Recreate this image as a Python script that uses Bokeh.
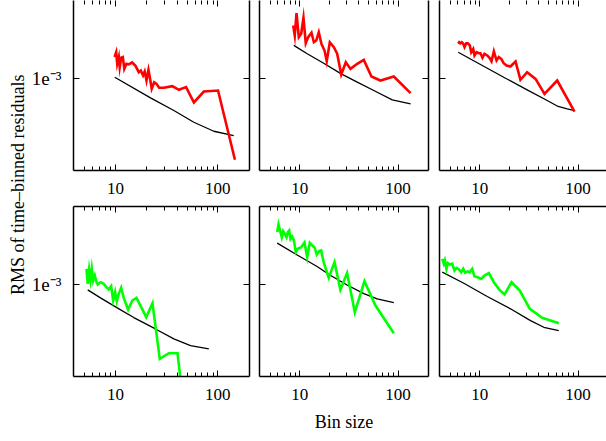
import math
from bokeh.plotting import figure
from bokeh.models import Range1d, LogAxis, FixedTicker, Label
from bokeh.layouts import row, column
from bokeh.embed import file_html
from bokeh.resources import INLINE

# ---------------- data ----------------
# top row (red), bottom row (green); black = model curve
tl_bin = [9.8, 10.16, 10.4, 10.78, 11.0, 11.37, 11.8, 12.2, 12.8, 13.5, 14.55, 15.7, 16.9, 17.7,
          18.6, 19.3, 20.1, 21.0, 21.6, 22.6, 23.9, 25.2, 26.7, 29.7, 35.9, 41.7, 49.0, 58.4,
          73.0, 100.5, 147]
tl_rms = [1.56e-3, 1.72e-3, 1.355e-3, 1.555e-3, 1.265e-3, 1.535e-3, 1.555e-3, 1.223e-3, 1.355e-3,
          1.337e-3, 1.392e-3, 1.30e-3, 1.14e-3, 1.18e-3, 1.064e-3, 1.156e-3, 0.96e-3, 1.197e-3,
          1.042e-3, 0.809e-3, 0.927e-3, 0.896e-3, 0.826e-3, 0.826e-3, 0.854e-3, 0.792e-3,
          0.837e-3, 0.61e-3, 0.765e-3, 0.781e-3, 0.187e-3]
tl_model_bin = [9.84, 22.0, 37.2, 58.3, 91.4, 143]
tl_model_rms = [1.027e-3, 0.671e-3, 0.517e-3, 0.406e-3, 0.337e-3, 0.308e-3]

tm_bin = [8.57, 8.89, 9.26, 9.77, 10.33, 10.9, 11.5, 12.17, 13.15, 13.9, 14.7, 15.6, 16.6, 17.85,
          18.8, 20.2, 22.2, 24.0, 26.4, 29.4, 32.8, 38.4, 44.8, 53.6, 66.1, 90.5, 134]
tm_rms = [2.99e-3, 2.43e-3, 3.85e-3, 2.35e-3, 2.52e-3, 3.50e-3, 2.07e-3, 2.35e-3, 2.57e-3,
          2.115e-3, 2.19e-3, 2.6e-3, 2.05e-3, 1.78e-3, 1.43e-3, 2.115e-3, 1.91e-3, 1.667e-3,
          1.086e-3, 1.40e-3, 1.22e-3, 1.355e-3, 1.47e-3, 1.042e-3, 0.96e-3, 1.042e-3, 0.739e-3]
tm_model_bin = [8.69, 11.9, 17.5, 26.4, 38.4, 56.6, 87.3, 134]
tm_model_rms = [1.98e-3, 1.667e-3, 1.372e-3, 1.10e-3, 0.927e-3, 0.781e-3, 0.644e-3, 0.593e-3]

tr_bin = [6.03, 6.17, 6.36, 6.56, 6.78, 6.99, 7.27, 7.55, 7.91, 8.18, 8.57, 8.83, 9.26, 9.77,
          10.16, 10.65, 11.16, 11.9, 12.55, 13.15, 13.9, 14.8, 15.6, 16.5, 17.5, 18.7, 20.5,
          23.1, 25.9, 30.3, 36.9, 45.5, 61.3, 91.9]
tr_rms = [2.05e-3, 2.115e-3, 2.07e-3, 2.115e-3, 2.05e-3, 1.91e-3, 2.07e-3, 2.07e-3, 1.98e-3,
          1.72e-3, 1.84e-3, 1.61e-3, 1.72e-3, 1.684e-3, 1.684e-3, 1.535e-3, 1.667e-3, 1.61e-3,
          1.535e-3, 1.43e-3, 1.755e-3, 1.45e-3, 1.555e-3, 1.50e-3, 1.372e-3, 1.31e-3, 1.283e-3,
          1.42e-3, 0.974e-3, 1.14e-3, 0.993e-3, 0.729e-3, 0.96e-3, 0.506e-3]
tr_model_bin = [6.03, 10.16, 17.5, 30.3, 48.5, 61.3, 77.5, 91.9]
tr_model_rms = [1.72e-3, 1.337e-3, 1.027e-3, 0.792e-3, 0.635e-3, 0.567e-3, 0.535e-3, 0.517e-3]

bl_bin = [5.21, 5.36, 5.53, 5.70, 5.87, 6.05, 6.28, 6.48, 6.71, 7.14, 7.69, 8.17, 8.60, 9.08,
          9.50, 9.93, 10.3, 10.77, 11.37, 12.05, 12.6, 13.3, 14.6, 16.05, 18.2, 19.96, 23.0,
          27.1, 33.2, 40.4, 45.7]
bl_rms = [1.383e-3, 1.0145e-3, 1.355e-3, 1.10e-3, 1.383e-3, 1.086e-3, 1.205e-3, 1.07e-3, 1.0e-3,
          1.049e-3, 1.0145e-3, 0.946e-3, 0.902e-3, 0.966e-3, 0.719e-3, 0.854e-3, 0.708e-3,
          0.826e-3, 0.935e-3, 0.76e-3, 0.68e-3, 0.597e-3, 0.719e-3, 0.76e-3, 0.606e-3, 0.51e-3,
          0.68e-3, 0.2155e-3, 0.2425e-3, 0.2425e-3, 0.09e-3]
bl_model_bin = [5.36, 7.14, 10.4, 15.1, 24.6, 37.2, 54.1, 81.7]
bl_model_rms = [0.896e-3, 0.76e-3, 0.618e-3, 0.506e-3, 0.40e-3, 0.326e-3, 0.284e-3, 0.265e-3]

bm_bin = [5.89, 6.07, 6.36, 6.56, 6.78, 7.04, 7.32, 7.55, 7.80, 8.04, 8.37, 8.69, 9.11, 9.54,
          10.33, 11.16, 11.9, 12.64, 13.37, 14.1, 14.9, 15.75, 16.5, 17.5, 19.7, 22.56, 25.9,
          30.3, 36.3, 45.5, 58.9, 90.5]
bm_rms = [2.95e-3, 3.45e-3, 2.95e-3, 2.65e-3, 3.01e-3, 2.85e-3, 2.65e-3, 2.95e-3, 3.05e-3,
          2.565e-3, 2.69e-3, 2.515e-3, 1.95e-3, 2.09e-3, 2.16e-3, 2.38e-3, 1.755e-3, 2.365e-3,
          2.235e-3, 2.16e-3, 1.854e-3, 1.99e-3, 2.02e-3, 1.587e-3, 1.149e-3, 1.587e-3, 0.896e-3,
          1.265e-3, 0.565e-3, 1.07e-3, 0.648e-3, 0.366e-3]
bm_model_bin = [5.89, 9.41, 15.0, 20.2, 30.3, 44.8, 61.3, 90.5]
bm_model_rms = [2.35e-3, 1.84e-3, 1.45e-3, 1.217e-3, 0.99e-3, 0.83e-3, 0.745e-3, 0.69e-3]

br_bin = [4.15, 4.30, 4.41, 4.58, 4.73, 4.95, 5.24, 5.53, 5.79, 6.11, 6.47, 6.78, 7.10, 7.55,
          7.91, 8.37, 8.83, 9.54, 10.33, 11.16, 12.35, 13.9, 15.86, 17.85, 21.0, 25.5, 32.3,
          43.1, 63.6]
br_rms = [1.70e-3, 1.535e-3, 1.644e-3, 1.383e-3, 1.555e-3, 1.51e-3, 1.535e-3, 1.337e-3, 1.41e-3,
          1.372e-3, 1.29e-3, 1.383e-3, 1.275e-3, 1.31e-3, 1.29e-3, 1.383e-3, 1.18e-3, 1.163e-3,
          1.125e-3, 1.205e-3, 1.265e-3, 1.049e-3, 0.896e-3, 0.814e-3, 1.049e-3, 0.884e-3,
          0.606e-3, 0.503e-3, 0.45e-3]
br_model_bin = [4.15, 6.88, 11.9, 20.5, 32.8, 44.8, 63.6]
br_model_rms = [1.29e-3, 1.027e-3, 0.781e-3, 0.606e-3, 0.475e-3, 0.414e-3, 0.387e-3]

x_major_ticks = [10, 100]
x_tick_labels = ["10", "100"]
x_minor_ticks = [5, 6, 7, 8, 9, 20, 30, 40, 50, 60, 70, 80, 90]
y_major_ticks = [1e-3]
y_tick_labels = ["1e\u207b\u00b3"]
x_title = "Bin size"
y_title = "RMS of time\u2013binned residuals"

# ---------------- layout / style ----------------
FONT = "Liberation Serif"
X_MIN = 3.89
col_left = [48, 5, 5]
col_frame = [176, 169, 167]
col_right = [5, 6, 0]
col_xmax = [204, 204, 194.5]
row_top = [0, 3]
row_bottom = [33, 65]
FRAME_H = 170
Y_RANGE = (1.5e-4, 5e-3)


def style_axis(ax, ticker, labels, line):
    ax.ticker = ticker
    ax.major_tick_in = 6
    ax.major_tick_out = 0
    ax.minor_tick_in = 4
    ax.minor_tick_out = 0
    ax.major_tick_line_color = "black"
    ax.minor_tick_line_color = "black"
    ax.major_tick_line_width = 1
    ax.minor_tick_line_width = 1
    ax.axis_line_color = "black" if line else None
    ax.axis_line_width = 1.5
    if labels:
        ax.major_label_text_font = FONT
        ax.major_label_text_font_size = "17px"
        ax.major_label_text_color = "black"
    else:
        ax.major_label_text_font_size = "1px"
        ax.major_label_text_alpha = 0
        ax.major_label_standoff = 0


def panel(col, rw, xs, ys, mx, my, color):
    p = figure(width=col_left[col] + col_frame[col] + col_right[col],
               height=row_top[rw] + FRAME_H + row_bottom[rw],
               x_axis_type="log", y_axis_type="log",
               x_range=Range1d(X_MIN, col_xmax[col]), y_range=Range1d(*Y_RANGE),
               output_backend="svg", toolbar_location=None,
               min_border_left=col_left[col], min_border_right=col_right[col],
               min_border_top=row_top[rw], min_border_bottom=row_bottom[rw])
    p.outline_line_color = None
    p.grid.visible = False
    p.background_fill_color = "white"
    p.border_fill_color = "white"

    xt = FixedTicker(ticks=x_major_ticks, minor_ticks=x_minor_ticks)
    yt = FixedTicker(ticks=y_major_ticks, minor_ticks=[])

    bx = p.xaxis[0]
    style_axis(bx, xt, True, True)
    bx.major_label_overrides = dict(zip(x_major_ticks, x_tick_labels))
    bx.major_label_standoff = 12
    if rw == 1 and col == 1:
        bx.axis_label = x_title
        bx.axis_label_text_font = FONT
        bx.axis_label_text_font_size = "18px"
        bx.axis_label_text_font_style = "normal"
        bx.axis_label_text_color = "black"
        bx.axis_label_standoff = 9

    ly = p.yaxis[0]
    style_axis(ly, yt, col == 0, True)
    if col == 0:
        ly.major_label_overrides = dict(zip(y_major_ticks, y_tick_labels))
        ly.major_label_standoff = 12
        ly.major_label_text_font_size = "19px"

    top = LogAxis()
    style_axis(top, FixedTicker(ticks=x_major_ticks, minor_ticks=x_minor_ticks), False, rw == 1)
    p.add_layout(top, "above")
    if col < 2:
        ra = LogAxis()
        style_axis(ra, FixedTicker(ticks=y_major_ticks, minor_ticks=[]), False, True)
        p.add_layout(ra, "right")

    p.line(mx, my, line_color="black", line_width=1.3)
    p.line(xs, ys, line_color=color, line_width=2.6, line_join="miter")
    return p


RED = "#ff0000"
GREEN = "#00ff00"
p1 = panel(0, 0, tl_bin, tl_rms, tl_model_bin, tl_model_rms, RED)
p2 = panel(1, 0, tm_bin, tm_rms, tm_model_bin, tm_model_rms, RED)
p3 = panel(2, 0, tr_bin, tr_rms, tr_model_bin, tr_model_rms, RED)
p4 = panel(0, 1, bl_bin, bl_rms, bl_model_bin, bl_model_rms, GREEN)
p5 = panel(1, 1, bm_bin, bm_rms, bm_model_bin, bm_model_rms, GREEN)
p6 = panel(2, 1, br_bin, br_rms, br_model_bin, br_model_rms, GREEN)

# strip holding the shared y-axis title
TOTAL_H = row_top[0] + FRAME_H + row_bottom[0] + row_top[1] + FRAME_H + row_bottom[1]
strip = figure(width=25, height=TOTAL_H, x_range=Range1d(0, 25), y_range=Range1d(0, TOTAL_H),
               x_axis_location=None, y_axis_location=None, output_backend="svg",
               toolbar_location=None, min_border=0)
strip.outline_line_color = None
strip.grid.visible = False
strip.add_layout(Label(x=17.5, y=TOTAL_H - 184.2, text=y_title, angle=math.pi / 2,
                       text_align="center", text_baseline="alphabetic", text_font=FONT,
                       text_font_size="18px", text_color="black"))

layout = row(strip, column(row(p1, p2, p3), row(p4, p5, p6)))
open("out.html", "w").write(file_html(layout, INLINE))
